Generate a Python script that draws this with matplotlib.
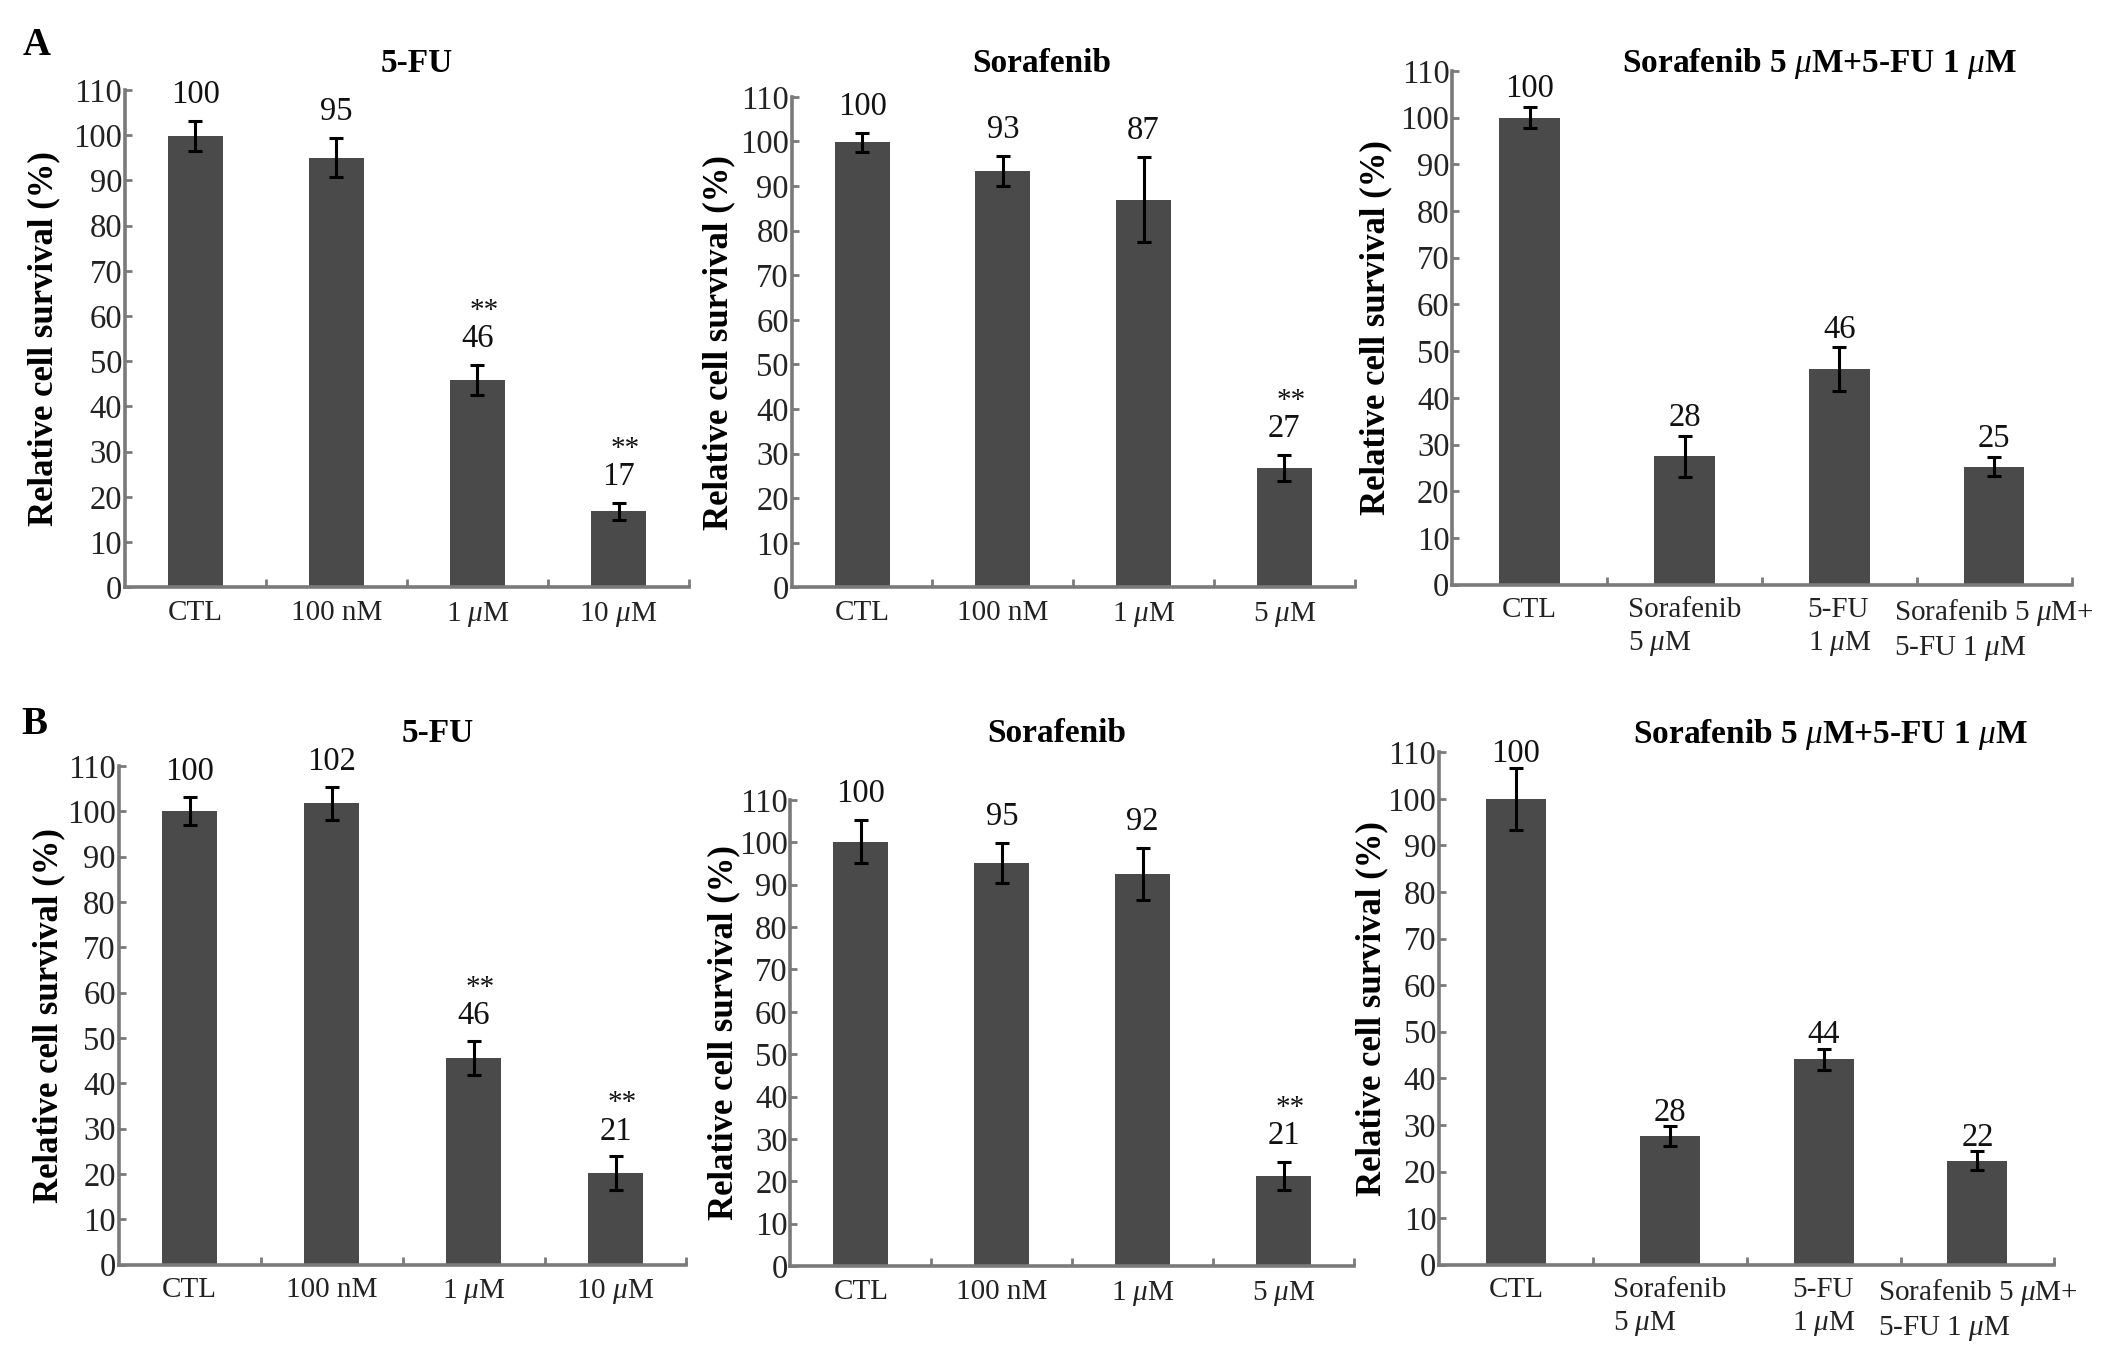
import matplotlib
matplotlib.use("Agg")
import matplotlib.pyplot as plt

plt.rcParams['font.family'] = ['Liberation Serif', 'DejaVu Serif']
plt.rcParams['mathtext.fontset'] = 'custom'
plt.rcParams['mathtext.rm'] = 'Liberation Serif'
plt.rcParams['mathtext.it'] = 'Liberation Serif:italic'
plt.rcParams['mathtext.bf'] = 'Liberation Serif:bold'

# --- data ---------------------------------------------------------------------
conc_fu = ['CTL', '100 nM', '1 $\\mu$M', '10 $\\mu$M']
conc_sor = ['CTL', '100 nM', '1 $\\mu$M', '5 $\\mu$M']
combo = ['CTL', 'Sorafenib\n5 $\\mu$M', '5-FU\n1 $\\mu$M',
         'Sorafenib 5 $\\mu$M+\n5-FU 1 $\\mu$M']

a_fu = [99.8, 95.0, 45.9, 16.8]
a_fu_err = [3.3, 4.3, 3.3, 1.9]
a_fu_lbl = ['100', '95', '46', '17']
a_fu_sig = ['', '', '**', '**']

a_sor = [99.8, 93.3, 86.9, 26.7]
a_sor_err = [2.1, 3.4, 9.5, 2.9]
a_sor_lbl = ['100', '93', '87', '27']
a_sor_sig = ['', '', '', '**']

a_cmb = [100.0, 27.5, 46.1, 25.3]
a_cmb_err = [2.3, 4.4, 4.7, 2.0]
a_cmb_lbl = ['100', '28', '46', '25']
a_cmb_sig = ['', '', '', '']

b_fu = [100.0, 101.7, 45.6, 20.2]
b_fu_err = [3.1, 3.7, 3.8, 3.7]
b_fu_lbl = ['100', '102', '46', '21']
b_fu_sig = ['', '', '**', '**']

b_sor = [100.2, 95.1, 92.5, 21.2]
b_sor_err = [5.1, 4.8, 6.1, 3.3]
b_sor_lbl = ['100', '95', '92', '21']
b_sor_sig = ['', '', '', '**']

b_cmb = [100.0, 27.6, 44.1, 22.3]
b_cmb_err = [6.6, 2.1, 2.3, 2.0]
b_cmb_lbl = ['100', '28', '44', '22']
b_cmb_sig = ['', '', '', '']

BAR = '#4a4a4a'
AXC = '#7a7a7a'


def panel(rect, title, title_xy, cats, vals, errs, lbls, sigs, pad, ylab_dist):
    ax = fig.add_axes(rect)
    x = list(range(len(cats)))
    ax.bar(x, vals, width=0.39, color=BAR, zorder=2)
    ax.errorbar(x, vals, yerr=errs, fmt='none', ecolor='black',
                elinewidth=2.2, capsize=5, capthick=2.2, zorder=3)
    for xi, v, e, t, s in zip(x, vals, errs, lbls, sigs):
        ax.annotate(t, (xi, v + e), xytext=(0, pad), textcoords='offset points',
                    ha='center', va='bottom', fontsize=23.5, color='#111111')
        if s:
            ax.annotate(s, (xi, v + e), xytext=(5, pad + 26),
                        textcoords='offset points', ha='center',
                        va='baseline', fontsize=21, color='#111111')
    ax.set_xlim(-0.5, len(cats) - 0.5)
    ax.set_ylim(0, 110)
    ax.set_yticks(range(0, 111, 10))
    ax.set_xticks(x)
    ax.set_xticklabels(cats, fontsize=21, color='#222222', multialignment='left',
                       linespacing=1.3)
    ax.set_xticks([i + 0.5 for i in x], minor=True)
    ax.tick_params(axis='x', which='major', length=0, pad=9)
    ax.tick_params(axis='x', which='minor', direction='in', length=6,
                   width=2, color=AXC)
    ax.tick_params(axis='y', direction='in', length=5, width=2, color=AXC,
                   labelsize=23.5, labelcolor='#222222', pad=2)
    for side in ('top', 'right'):
        ax.spines[side].set_visible(False)
    for side in ('left', 'bottom'):
        ax.spines[side].set_color(AXC)
        ax.spines[side].set_linewidth(2.6)
    ax.set_ylabel('Relative cell survival (%)', fontsize=25, fontweight='bold')
    w_px = rect[2] * fig.get_figwidth() * fig.dpi
    ax.yaxis.set_label_coords(-ylab_dist / w_px, 0.5)
    fig.text(title_xy[0], title_xy[1], title, fontsize=24, fontweight='bold',
             ha='center', va='center')
    return ax


fig = plt.figure(figsize=(21.26, 13.5), dpi=100)

combo_title = 'Sorafenib 5 $\\mu$M+5-FU 1 $\\mu$M'

panel([0.0587, 0.5649, 0.2654, 0.3685], '5-FU', (0.196, 0.953),
      conc_fu, a_fu, a_fu_err, a_fu_lbl, a_fu_sig, 8, 64)
panel([0.3724, 0.5649, 0.2648, 0.3634], 'Sorafenib', (0.490, 0.953),
      conc_sor, a_sor, a_sor_err, a_sor_lbl, a_sor_sig, 8, 56)
panel([0.6831, 0.5669, 0.2913, 0.3806], combo_title, (0.856, 0.953),
      combo, a_cmb, a_cmb_err, a_cmb_lbl, a_cmb_sig, 2, 60)

panel([0.0558, 0.0632, 0.2671, 0.3695], '5-FU', (0.206, 0.457),
      conc_fu, b_fu, b_fu_err, b_fu_lbl, b_fu_sig, 7, 53)
panel([0.3718, 0.0622, 0.2651, 0.3452], 'Sorafenib', (0.497, 0.4565),
      conc_sor, b_sor, b_sor_err, b_sor_lbl, b_sor_sig, 8, 50)
panel([0.6769, 0.0632, 0.2894, 0.3796], combo_title, (0.861, 0.456),
      combo, b_cmb, b_cmb_err, b_cmb_lbl, b_cmb_sig, -1, 51)

fig.text(0.017, 0.966, 'A', fontsize=28, fontweight='bold', ha='center', va='center')
fig.text(0.016, 0.463, 'B', fontsize=28, fontweight='bold', ha='center', va='center')

fig.savefig('out.png', dpi=100)
